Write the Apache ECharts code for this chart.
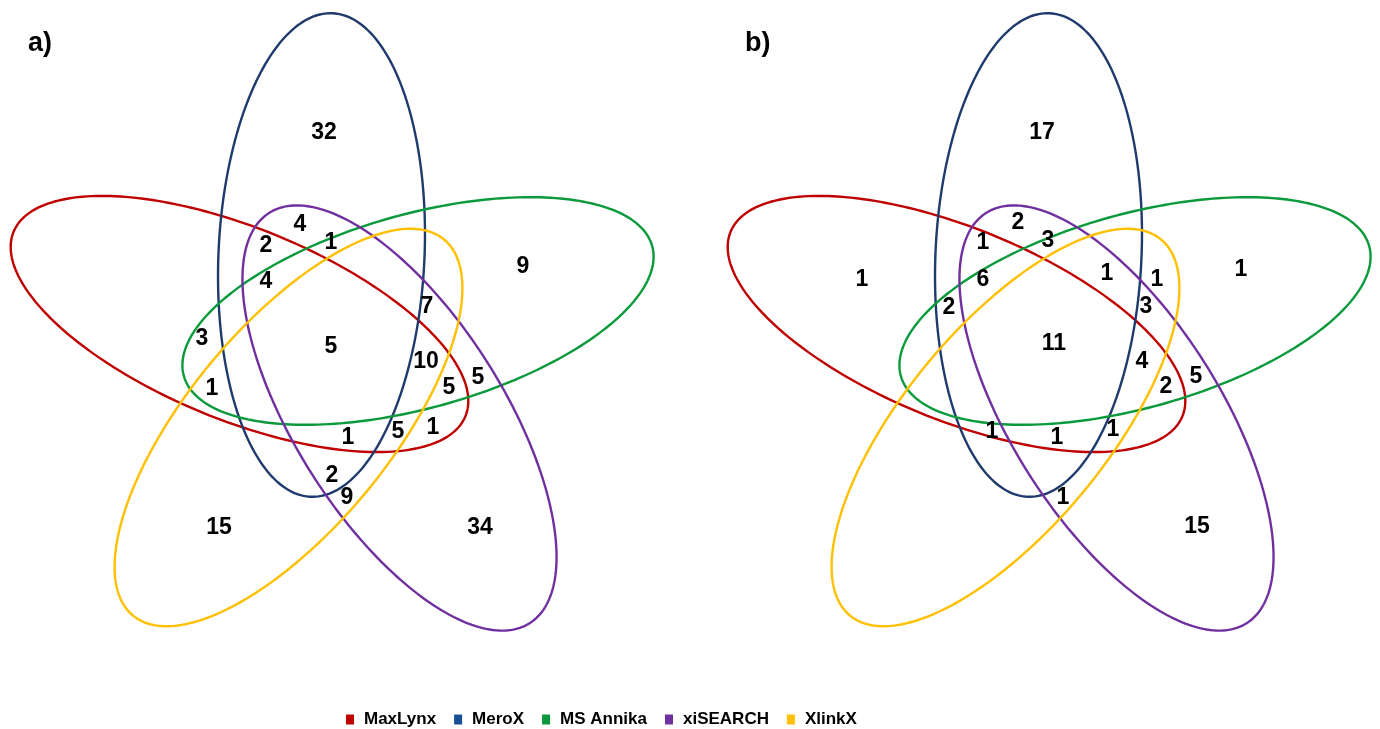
<!DOCTYPE html>
<html>
<head>
<meta charset="utf-8">
<script src="https://cdn.jsdelivr.net/npm/echarts@6/dist/echarts.min.js"></script>
<style>
  html, body { margin: 0; background: #fff; }
  #chart { width: 1380px; height: 729px; }
</style>
</head>
<body>
<div id="chart"></div>
<script>
const setNames = ['MaxLynx', 'MeroX', 'MS Annika', 'xiSEARCH', 'XlinkX']
const lineColors = ['#c00000', '#1f3a6c', '#0a9a3c', '#7030a0', '#ffc000']
const legendColors = ['#c00000', '#1a4f96', '#0a9a3c', '#7030a0', '#ffc000']

// ellipse per set, same layout in both panels (panel units)
const ellipseCx = [239.5, 321.5, 418, 399.5, 288.5]
const ellipseCy = [324, 255, 311, 418, 427.5]
const ellipseRx = [244, 242, 243, 243, 244]
const ellipseRy = [96, 103, 97, 104, 101]
const ellipseRot = [22.2, 92.6, -15.5, 57.6, -50.4]

// a) region counts and where they sit
const countsA = [32, 9, 4, 2, 1, 4, 3, 1, 5, 7, 10, 5, 5, 1, 5, 1, 2, 9, 15, 34]
const labelXA = [324, 523, 300, 266, 331, 266, 202, 212, 331, 427, 426, 449, 478, 348, 398, 433, 332, 347, 219, 480]
const labelYA = [133, 267, 225, 246, 243, 282, 339, 389, 347, 307, 362, 388, 378, 438, 432, 428, 476, 498, 528, 528]

// b) region counts
const countsB = [17, 1, 1, 2, 1, 3, 6, 2, 1, 1, 3, 11, 4, 2, 5, 1, 1, 1, 1, 15]
const labelXB = [325, 145, 524, 301, 266, 331, 266, 232, 390, 440, 429, 337, 425, 449, 479, 275, 340, 396, 346, 480]
const labelYB = [133, 280, 270, 223, 243, 241, 280, 308, 274, 280, 307, 344, 362, 387, 377, 432, 438, 430, 498, 527]

const panelTitles = ['a)', 'b)']

const chart = echarts.init(document.getElementById('chart'))

function renderEllipse(params, api) {
  const cx = api.value(0)
  const cy = api.value(1)
  const rx = api.value(2)
  const ry = api.value(3)
  const rot = api.value(4) * Math.PI / 180
  const points = []
  for (let i = 0; i < 240; i++) {
    const t = i / 240 * Math.PI * 2
    const ex = rx * Math.cos(t)
    const ey = ry * Math.sin(t)
    points.push(api.coord([
      cx + ex * Math.cos(rot) - ey * Math.sin(rot),
      cy + ex * Math.sin(rot) + ey * Math.cos(rot)
    ]))
  }
  return {
    type: 'polygon',
    shape: { points: points },
    style: { fill: 'none', stroke: api.visual('color'), lineWidth: 2.4 }
  }
}

const series = []
for (let p = 0; p < 2; p++) {
  setNames.forEach((name, i) => {
    series.push({
      type: 'custom',
      name: name,
      xAxisIndex: p,
      yAxisIndex: p,
      renderItem: renderEllipse,
      itemStyle: { color: lineColors[i] },
      silent: true,
      data: [[ellipseCx[i], ellipseCy[i], ellipseRx[i], ellipseRy[i], ellipseRot[i]]]
    })
  })
}

const countSets = [[countsA, labelXA, labelYA], [countsB, labelXB, labelYB]]
countSets.forEach((s, p) => {
  series.push({
    type: 'scatter',
    name: 'counts' + p,
    xAxisIndex: p,
    yAxisIndex: p,
    symbolSize: 0,
    silent: true,
    itemStyle: { opacity: 1 },
    label: {
      show: true,
      position: 'inside',
      formatter: (d) => d.value[2],
      color: '#000',
      opacity: 1,
      textBorderWidth: 0,
      fontSize: 23,
      fontWeight: 'bold',
      fontFamily: 'Liberation Sans, Arial, sans-serif'
    },
    data: s[0].map((c, k) => [s[1][k], s[2][k], c])
  })
})

const option = {
  animation: false,
  backgroundColor: '#fff',
  title: panelTitles.map((t, p) => ({
    text: t,
    left: p === 0 ? 28 : 745,
    top: 30,
    padding: 0,
    textStyle: {
      fontSize: 27,
      fontWeight: 'bold',
      color: '#000',
      fontFamily: 'Liberation Sans, Arial, sans-serif'
    }
  })),
  legend: {
    left: 341,
    top: 706,
    icon: 'rect',
    itemWidth: 8,
    itemHeight: 10,
    itemGap: 18,
    selectedMode: false,
    data: setNames.map((n, i) => ({ name: n, itemStyle: { color: legendColors[i] } })),
    textStyle: {
      fontSize: 17,
      fontWeight: 'bold',
      color: '#000',
      padding: [0, 0, 0, 5],
      fontFamily: 'Liberation Sans, Arial, sans-serif'
    }
  },
  grid: [
    { left: 0, top: 0, width: 690, height: 729 },
    { left: 717, top: 0, width: 663, height: 729 }
  ],
  xAxis: [
    { type: 'value', gridIndex: 0, min: 0, max: 690, show: false },
    { type: 'value', gridIndex: 1, min: 0, max: 663, show: false }
  ],
  yAxis: [
    { type: 'value', gridIndex: 0, min: 0, max: 729, inverse: true, show: false },
    { type: 'value', gridIndex: 1, min: 0, max: 729, inverse: true, show: false }
  ],
  series: series
}

chart.setOption(option)
</script>
</body>
</html>
